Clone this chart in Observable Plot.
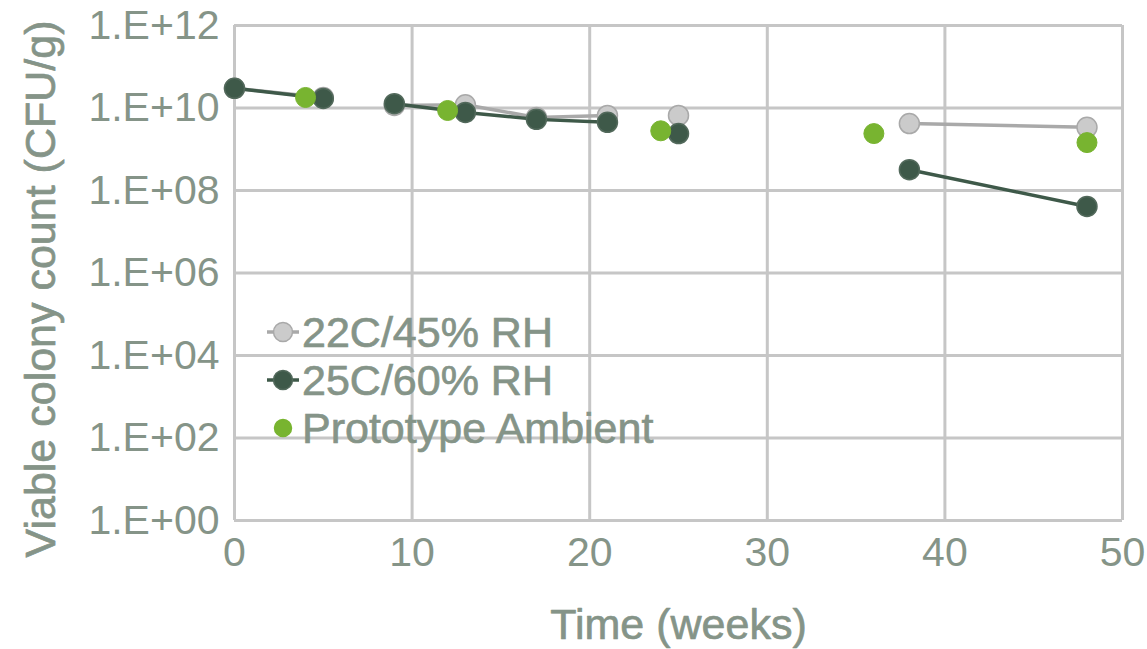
<!DOCTYPE html>
<html><head><meta charset="utf-8">
<script src="https://cdn.jsdelivr.net/npm/d3@7"></script>
<script src="https://cdn.jsdelivr.net/npm/@observablehq/plot@0.6"></script>
<style>
body{margin:0;background:#fff;}
#wrap{position:relative;width:1147px;height:649px;overflow:hidden;font-family:"Liberation Sans",Arial,sans-serif;}
.item{position:absolute;display:flex;align-items:center;height:50px;font-size:43px;color:#859488;white-space:nowrap;-webkit-text-stroke:0.7px #859488;}
.item svg{display:block;}
</style></head><body><div id="wrap"><div id="chart"></div></div>
<script>
const seriesNames = ["22C/45% RH", "25C/60% RH", "Prototype Ambient"];

const weeks22 = [0, 5, 9, 13, 17, 21, 25, 38, 48];
const cfu22   = [3.0e10, 1.8e10, 1.15e10, 1.2e10, 5.9e9, 6.6e9, 6.6e9, 4.2e9, 3.4e9];
const seg22   = [0, 0, 1, 1, 1, 1, 2, 3, 3];

const weeks25 = [0, 5, 9, 13, 17, 21, 25, 38, 48];
const cfu25   = [3.0e10, 1.7e10, 1.27e10, 7.8e9, 5.3e9, 4.5e9, 2.4e9, 3.2e8, 4.1e7];
const seg25   = [0, 0, 1, 1, 1, 1, 2, 3, 3];

const weeksProto = [4, 12, 24, 36, 48];
const cfuProto   = [1.8e10, 8.7e9, 2.8e9, 2.4e9, 1.45e9];

const xTicks = [0, 10, 20, 30, 40, 50];
const yTicks = [1e0, 1e2, 1e4, 1e6, 1e8, 1e10, 1e12];
const yTickLabels = ["1.E+00", "1.E+02", "1.E+04", "1.E+06", "1.E+08", "1.E+10", "1.E+12"];
const xTitle = "Time (weeks)";
const yTitle = "Viable colony count (CFU/g)";

const fills   = ["#cbcbcb", "#3e5949", "#78b430"];
const strokes = ["#a9a9a9", "#52695b", "#78b430"];
const lineColors = ["#a9a9a9", "#3e5949"];
const textColor = "#859488";
const gridColor = "#c6c6c6";

const rows22 = weeks22.map((w, i) => ({week: w, cfu: cfu22[i], seg: seg22[i]}));
const rows25 = weeks25.map((w, i) => ({week: w, cfu: cfu25[i], seg: seg25[i]}));
const rowsP  = weeksProto.map((w, i) => ({week: w, cfu: cfuProto[i]}));

const textStyle = {fill: textColor, stroke: textColor, strokeWidth: 0.7, paintOrder: "stroke"};

const chart = Plot.plot({
  width: 1147, height: 649,
  marginLeft: 234, marginRight: 25, marginTop: 25, marginBottom: 129,
  style: {fontFamily: '"Liberation Sans", Arial, sans-serif', fontSize: "41px", color: textColor, background: "#fff", overflow: "visible"},
  x: {domain: [0, 50]},
  y: {type: "log", domain: [1, 1e12]},
  marks: [
    Plot.gridX(xTicks, {stroke: gridColor, strokeWidth: 3, strokeOpacity: 1}),
    Plot.gridY(yTicks, {stroke: gridColor, strokeWidth: 3, strokeOpacity: 1}),
    Plot.axisX({ticks: xTicks, tickSize: 0, tickPadding: 16, label: null, fontSize: 41, ...textStyle}),
    Plot.axisY({ticks: yTicks, tickSize: 0, tickPadding: 15, label: null, fontSize: 41, ...textStyle,
      tickFormat: d => yTickLabels[yTicks.indexOf(d)]}),
    Plot.text([xTitle], {frameAnchor: "bottom", dy: 105, text: d => d, fontSize: 43, lineAnchor: "middle", textAnchor: "middle", ...textStyle}),
    Plot.text([yTitle], {frameAnchor: "left", dx: -193, dy: 16, rotate: -90, text: d => d, fontSize: 43, lineAnchor: "middle", textAnchor: "middle", ...textStyle}),
    Plot.line(rows22, {x: "week", y: "cfu", z: "seg", stroke: lineColors[0], strokeWidth: 3.5}),
    Plot.dot(rows22, {x: "week", y: "cfu", r: 10, fill: fills[0], stroke: strokes[0], strokeWidth: 1.5}),
    Plot.line(rows25, {x: "week", y: "cfu", z: "seg", stroke: lineColors[1], strokeWidth: 3.5}),
    Plot.dot(rows25, {x: "week", y: "cfu", r: 10, fill: fills[1], stroke: strokes[1], strokeWidth: 1.5}),
    Plot.dot(rowsP, {x: "week", y: "cfu", r: 10, fill: fills[2], stroke: strokes[2], strokeWidth: 1})
  ]
});
const wrap = document.getElementById("wrap");
wrap.appendChild(chart);

// legend overlaid inside the plot area
const legendTops = [307, 355, 403];
seriesNames.forEach((name, i) => {
  const item = document.createElement("div");
  item.className = "item";
  item.style.left = "266px";
  item.style.top = legendTops[i] + "px";
  const hasLine = i < 2;
  item.innerHTML =
    `<svg width="36" height="30" viewBox="0 0 36 30">` +
    (hasLine ? `<line x1="1" y1="15" x2="33" y2="15" stroke="${lineColors[i]}" stroke-width="3.5"/>` : "") +
    `<circle cx="17" cy="15" r="${hasLine ? 9.5 : 8.5}" fill="${fills[i]}" stroke="${strokes[i]}" stroke-width="1.5"/></svg>` +
    `<span>${name}</span>`;
  wrap.appendChild(item);
});
</script></body></html>
